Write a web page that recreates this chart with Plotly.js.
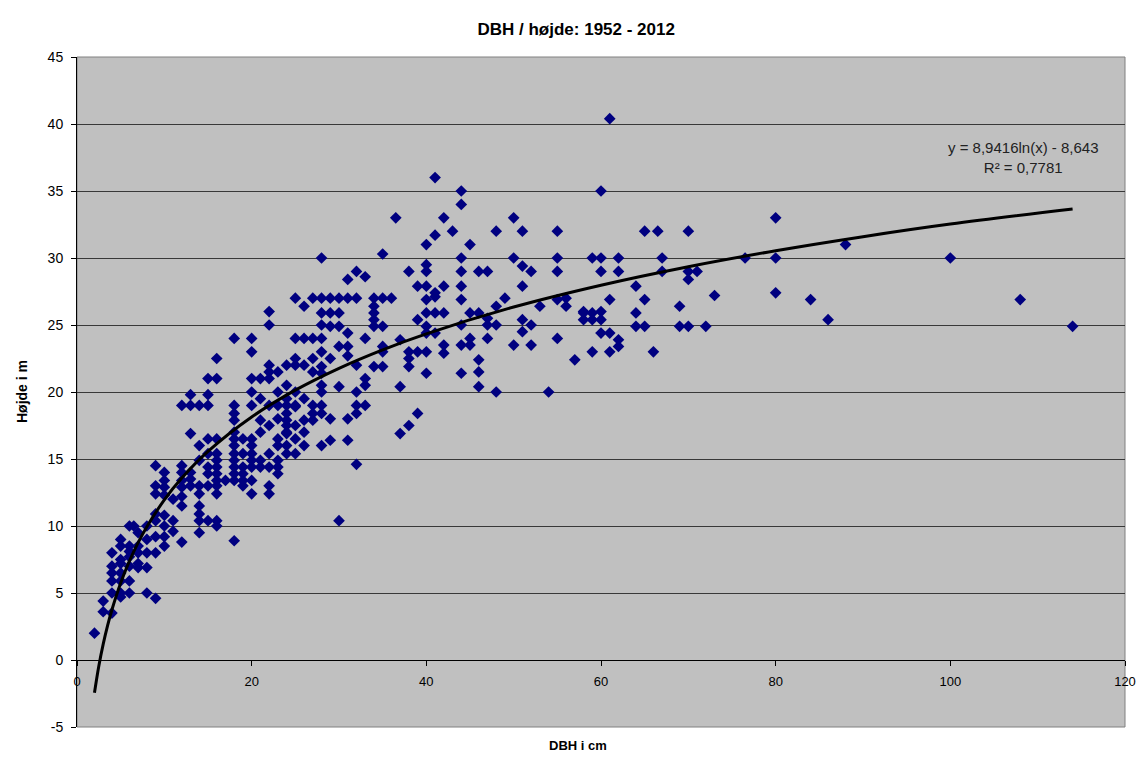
<!DOCTYPE html>
<html>
<head>
<meta charset="utf-8">
<script src="https://cdn.plot.ly/plotly-3.0.1.min.js"></script>
<style>html,body{margin:0;padding:0;background:#fff;}#chart{width:1141px;height:762px;}</style>
</head>
<body>
<div id="chart"></div>
<script>
const dbh = [
 2,
 3,3,
 4,4,4,4,4,4,
 5,5,5,5,5,5,5,5,
 6,6,6,6,6,6,6, 6.5,
 7,7,7,7,7,
 8,8,8,8,8,
 9,9,9,9,9,9,9,9,
 10,10,10,10,10,10,10,10,
 11,11,11,
 12,12,12,12,12,12,12,12,
 13,13,13,13,13,13,
 14,14,14,14,14,14,14,14,14,
 15,15,15,15,15,15,15,15,15,
 16,16,16,16,16,16,16,16,16,16,16,16,
 17,
 18,18,18,18,18,18,18,18,18,18,18,18,18,
 19,19,19,19,19,19,
 20,20,20,20,20,20,20,20,20,20,20,20,
 21,21,21,21,21,21,
 22,22,22,22,22,22,22,22,22,22,22,
 23,23,23,23,23,23,23,23,23,
 24,24,24,24,24,24,24,24,24,24,24,
 25,25,25,25,25,25,25,25,25,25,
 26,26,26,26,26,26,26,
 27,27,27,27,27,27,27,
 28,28,28,28,28,28,28,28,28,28,28,28,28,
 29,29,29,29,29,29,
 30,30,30,30,30,30,
 31,31,31,31,31,31,31,
 32,32,32,32,32,32,32,
 33,33,33,33,33,
 34,34,34,34,34,34,
 35,35,35,35,35,35,
 36, 36.5,
 37,37,37,
 38,38,38,38,38,
 39,39,39,39,
 40,40,40,40,40,40,40,40,40,40,
 41,41,41,41,41,41,
 42,42,42,42,42,
 43,
 44,44,44,44,44,44,44,44,44,
 45,45,45,45,
 46,46,46,46,46,
 47,47,47,47,
 48,48,48,48,
 49,
 50,50,50,
 51,51,51,51,51,
 52,52,52,
 53, 54,
 55,55,55,55,55,
 56,56, 57,
 58,58,58,
 59,59,59,59,
 60,60,60,60,60,60,
 61,61,61,61,
 62,62,62,62,
 64,64,64,
 65,65,65,
 66,66.5,
 67,67,
 69,69,
 70,70,70,70,
 71, 72, 73, 76.5,
 80,80,80,
 84, 86, 88, 100, 108, 114
];
const hoejde = [
 2,
 3.6,4.4,
 3.5,5,5.9,6.5,7,8,
 4.7,5,5.9,6.5,7.2,7.5,8.5,9,
 5,5.9,7,7.7,8.1,8.5,10, 10,
 6.9,7.2,8,8.5,9.5,
 5,6.9,8,9,10,
 4.6,8,9.2,10.4,10.9,12.4,13,14.5,
 8.5,9.2,10,10.8,12.3,12.9,13.4,14,
 9.6,10.4,12,
 8.8,11.5,12.2,12.9,13.4,14,14.5,19,
 13,13.5,14,16.9,19,19.8,
 9.5,10.4,10.9,11.5,12.4,13,14.9,16,19,
 10.4,13,13.9,14.4,15.4,16.5,19,19.8,21,
 10,10.4,12.4,13,13.4,13.9,14.4,14.9,15.4,16.5,21,22.5,
 13.4,
 8.9,13.4,13.9,14.4,14.9,15.4,16,16.5,17,17.9,18.4,19,24,
 13,13.4,13.9,14.4,15.4,16.5,
 12.4,13.4,14.4,14.9,15.4,16,16.5,19,20,21,23,24,
 14.4,14.9,17,17.9,19.5,21,
 12.4,13,14.4,15.4,17.5,19,21,21.5,22,25,26,
 13.9,14.4,14.9,16,16.5,18,19,20,21.5,
 15.4,16,16.9,17,17.5,17.9,18.4,19,19.5,20.5,22,
 15.4,16.5,17.5,18.9,19,20,22,22.5,24,27,
 16,17,17.9,19.5,22,24,26.4,
 17.9,18.4,19,21.5,22.5,24,27,
 16,18.4,19,20,20.5,21.4,21.9,23,24,25,25.9,27,30,
 16.4,18,22.5,24.9,25.9,27,
 10.4,20.4,23.4,24.9,25.9,27,
 16.4,18,22.7,23.4,24.4,27,28.4,
 14.6,18.4,19,20,22,27,29,
 19,20.5,21,24,28.6,
 21.9,24.9,25.4,25.9,26.4,27,
 21.9,23,23.4,24.9,27,30.3,
 27, 33,
 16.9,20.4,23.9,
 17.5,21.9,22.5,23,29,
 18.4,23,25.4,27.9,
 21.4,23,24.4,24.9,25.9,26.9,27.9,29,29.5,31,
 24.4,25.9,27.1,27.4,31.7,36,
 22.9,23.5,25.9,27.9,33,
 32,
 21.4,23.5,25,26.9,27.9,29,30,34,35,
 23.5,24,25.9,31,
 20.4,21.5,22.4,25.9,29,
 24,25,25.5,29,
 20,25,26.4,32,
 27,
 23.5,30,33,
 24.5,25.4,27.9,29.4,32,
 23.5,25,29,
 26.4, 20,
 24,26.9,29,30,32,
 26.4,27, 22.4,
 25.4,25.9,26,
 23,25.4,25.9,30,
 24.4,25.4,26,29,30,35,
 23,24.4,26.9,40.4,
 23.4,23.9,29,30,
 24.9,25.9,27.9,
 24.9,26.9,32,
 23,32,
 29,30,
 24.9,26.4,
 24.9,28.4,29,32,
 29, 24.9, 27.2, 30,
 27.4,30,33,
 26.9, 25.4, 31, 30, 26.9, 24.9
];
// Logarithmic trend line
const trendX = [2, 2.5, 3, 3.5, 4, 5, 6, 7, 8, 10, 12, 15, 20, 25, 30, 35, 40, 50, 60, 70, 80, 90, 100, 114];
const trendY = [-2.45, -0.45, 1.18, 2.56, 3.75, 5.75, 7.38, 8.76, 9.95, 11.95, 13.58, 15.57, 18.14, 20.14, 21.77, 23.15, 24.34, 26.34, 27.97, 29.35, 30.54, 31.59, 32.53, 33.65];
const eqText = "y = 8,9416ln(x) - 8,643<br>R² = 0,7781";
const yTicks = [-5, 0, 5, 10, 15, 20, 25, 30, 35, 40, 45];
const xTicks = [0, 20, 40, 60, 80, 100, 120];

const FONT = "Arial, 'Liberation Sans', sans-serif";

const traces = [
  {
    type: "scatter", mode: "markers", x: dbh, y: hoejde,
    marker: {symbol: "diamond", size: 9, color: "#000080", line: {width: 0}},
    hoverinfo: "x+y", showlegend: false
  },
  {
    type: "scatter", mode: "lines", x: trendX, y: trendY,
    line: {color: "#000000", width: 3, shape: "spline", smoothing: 1.0},
    hoverinfo: "skip", showlegend: false
  }
];

const layout = {
  width: 1141, height: 762,
  margin: {l: 77, r: 16, t: 57, b: 35},
  paper_bgcolor: "#ffffff",
  plot_bgcolor: "#c0c0c0",
  font: {family: FONT, size: 13, color: "#000"},
  title: {
    text: "<b>DBH / højde: 1952 - 2012</b>",
    font: {family: FONT, size: 17, color: "#000"},
    x: 0.505, xref: "container", xanchor: "center",
    y: 1 - 29/762, yref: "container", yanchor: "middle"
  },
  xaxis: {
    range: [0, 120], tickvals: xTicks, ticktext: xTicks.map(String),
    anchor: "free", position: 0.1,
    showline: true, linecolor: "#000", linewidth: 1,
    ticks: "outside", ticklen: 5, tickcolor: "#000",
    ticklabelstandoff: 4,
    showgrid: false, zeroline: false,
    tickfont: {family: FONT, size: 13, color: "#000"}
  },
  yaxis: {
    range: [-5, 45], tickvals: yTicks, ticktext: yTicks.map(String),
    showline: true, linecolor: "#000", linewidth: 1,
    ticks: "outside", ticklen: 5, tickcolor: "#000",
    ticklabelstandoff: 5,
    showgrid: true, gridcolor: "#383838", gridwidth: 1,
    zeroline: false,
    tickfont: {family: FONT, size: 14, color: "#000"}
  },
  shapes: [
    {type: "rect", xref: "paper", yref: "paper", x0: 0, x1: 1, y0: 0, y1: 1,
     line: {color: "#808080", width: 1}, layer: "below"}
  ],
  annotations: [
    {text: eqText, xref: "paper", yref: "paper", x: 0.9036, y: 0.85,
     xanchor: "center", yanchor: "middle", align: "center", showarrow: false,
     font: {family: FONT, size: 15, color: "#222"}},
    {text: "<b>Højde i m</b>", xref: "paper", yref: "paper",
     x: (22 - 77) / 1048, y: 0.5, xanchor: "center", yanchor: "middle",
     textangle: -90, showarrow: false, font: {family: FONT, size: 14, color: "#000"}},
    {text: "<b>DBH i cm</b>", xref: "paper", yref: "paper",
     x: (578 - 77) / 1048, y: (727 - 745) / 670, xanchor: "center", yanchor: "middle",
     showarrow: false, font: {family: FONT, size: 13, color: "#000"}}
  ]
};

Plotly.newPlot("chart", traces, layout, {displayModeBar: false, staticPlot: true});
</script>
</body>
</html>
